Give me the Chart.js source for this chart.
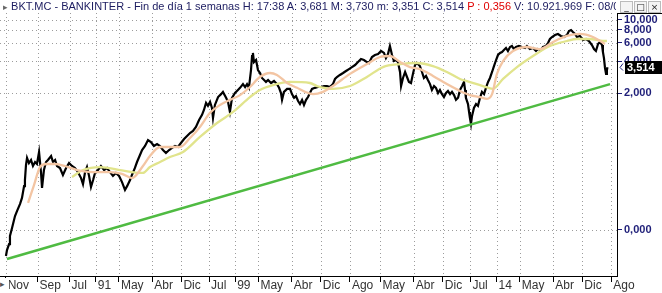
<!DOCTYPE html>
<html><head><meta charset="utf-8">
<script src="https://cdn.jsdelivr.net/npm/chart.js@4.4.1/dist/chart.umd.min.js"></script>
<style>
html,body{margin:0;padding:0;background:#fff;}
#wrap{position:relative;width:662px;height:293px;overflow:hidden;background:#fff;}
#c{position:absolute;left:0;top:0;}
#title{position:absolute;left:3px;top:0;width:613px;height:13px;overflow:hidden;white-space:nowrap;font:11px "Liberation Sans",Arial,sans-serif;color:#1c1c60;line-height:13px;}
#title .ic{color:#666;font-size:9px;}
#btns{position:absolute;left:620px;top:1px;height:11px;white-space:nowrap;font:9px "DejaVu Sans",sans-serif;color:#222;}
#btns span{display:inline-block;width:11px;height:10px;line-height:10px;text-align:center;border:1px solid #bbb;margin-right:1px;background:#f4f4f4;}
#mark{position:absolute;left:0;top:278px;width:9px;height:13px;background:#fff;color:#555;font:9px "DejaVu Sans",sans-serif;line-height:13px;}
</style></head>
<body>
<div id="wrap">
<canvas id="c" width="662" height="293"></canvas>
<div id="title"><span class="ic">&#9656;</span> BKT.MC - BANKINTER - Fin de día 1 semanas H: 17:38 A: 3,681 M: 3,730 m: 3,351 C: 3,514 <span style="color:#e00000">P : 0,356</span> V: 10.921.969 F: 08/05/2020</div>
<div id="btns"><span>_</span><span>&#9633;</span><span>&#215;</span></div>
<div id="mark">&#9656;</div>
</div>
<script>
// ---- data (dates as decimal years, prices in EUR) ----
const priceDates = [1985.85,1985.91,1986.03,1986.08,1986.20,1986.26,1986.37,1986.49,1986.66,1986.77,1986.89,1986.94,1987.00,1987.06,1987.17,1987.29,1987.40,1987.52,1987.63,1987.75,1987.86,1987.92,1988.03,1988.15,1988.26,1988.44,1988.55,1988.67,1988.78,1988.95,1989.12,1989.30,1989.47,1989.64,1989.81,1989.98,1990.16,1990.27,1990.39,1990.50,1990.62,1990.73,1990.85,1990.96,1991.13,1991.30,1991.48,1991.65,1991.82,1991.99,1992.16,1992.34,1992.51,1992.68,1992.80,1992.97,1993.08,1993.25,1993.37,1993.54,1993.66,1993.83,1994.00,1994.17,1994.34,1994.52,1994.69,1994.86,1995.03,1995.21,1995.38,1995.55,1995.72,1995.89,1996.07,1996.24,1996.41,1996.58,1996.75,1996.93,1997.10,1997.21,1997.33,1997.44,1997.56,1997.67,1997.73,1997.84,1998.02,1998.19,1998.30,1998.48,1998.59,1998.70,1998.82,1998.99,1999.16,1999.28,1999.45,1999.57,1999.68,1999.79,1999.91,1999.97,2000.02,2000.08,2000.20,2000.31,2000.43,2000.54,2000.66,2000.77,2000.89,2001.06,2001.23,2001.40,2001.52,2001.63,2001.69,2001.80,2001.98,2002.15,2002.26,2002.38,2002.49,2002.61,2002.72,2002.84,2002.95,2003.07,2003.18,2003.29,2003.41,2003.58,2003.75,2003.93,2004.10,2004.27,2004.44,2004.61,2004.73,2004.84,2005.01,2005.19,2005.36,2005.53,2005.70,2005.88,2006.05,2006.22,2006.39,2006.56,2006.68,2006.85,2007.02,2007.20,2007.37,2007.54,2007.65,2007.77,2007.88,2008.00,2008.11,2008.23,2008.34,2008.46,2008.52,2008.63,2008.75,2008.86,2008.97,2009.09,2009.20,2009.32,2009.43,2009.60,2009.72,2009.83,2009.95,2010.06,2010.18,2010.29,2010.41,2010.52,2010.64,2010.75,2010.87,2010.98,2011.10,2011.21,2011.33,2011.44,2011.56,2011.67,2011.79,2011.90,2012.02,2012.13,2012.19,2012.24,2012.36,2012.42,2012.47,2012.53,2012.59,2012.70,2012.82,2012.93,2013.05,2013.16,2013.28,2013.39,2013.51,2013.62,2013.74,2013.85,2013.97,2014.08,2014.20,2014.31,2014.42,2014.54,2014.65,2014.77,2014.88,2014.99,2015.11,2015.28,2015.46,2015.63,2015.74,2015.91,2016.09,2016.26,2016.37,2016.55,2016.66,2016.83,2016.95,2017.06,2017.18,2017.35,2017.52,2017.69,2017.87,2018.04,2018.15,2018.27,2018.38,2018.50,2018.61,2018.78,2018.96,2019.13,2019.30,2019.47,2019.59,2019.70,2019.82,2019.93,2020.05,2020.10,2020.16,2020.22,2020.28,2020.33,2020.36];
const priceValues = [0.0563,0.0641,0.0731,0.0872,0.104,0.114,0.135,0.151,0.176,0.201,0.260,0.297,0.413,0.482,0.431,0.461,0.404,0.441,0.422,0.549,0.354,0.250,0.370,0.441,0.461,0.503,0.441,0.461,0.404,0.387,0.332,0.387,0.431,0.404,0.387,0.354,0.310,0.272,0.354,0.395,0.325,0.255,0.297,0.347,0.370,0.404,0.370,0.387,0.354,0.325,0.347,0.325,0.284,0.239,0.260,0.297,0.332,0.387,0.441,0.514,0.574,0.626,0.714,0.683,0.626,0.654,0.626,0.574,0.537,0.574,0.600,0.626,0.613,0.669,0.730,0.780,0.833,0.870,0.950,1.107,1.24,1.38,1.61,1.51,1.65,1.44,1.157,1.54,1.83,1.95,2.05,1.80,1.65,1.32,1.80,2.00,2.14,2.24,2.43,2.28,2.43,2.24,3.31,4.50,4.81,3.94,4.12,3.31,3.10,2.78,2.66,2.55,2.66,2.49,2.60,2.43,2.24,2.00,1.72,2.05,2.19,2.19,1.95,1.80,1.87,1.68,1.57,1.72,1.54,1.72,1.83,2.00,2.19,2.24,2.28,2.28,2.33,2.33,2.28,2.43,2.72,2.84,2.97,3.10,3.24,3.38,3.53,3.69,3.94,4.21,4.12,3.94,3.86,4.40,4.60,4.70,5.02,4.81,4.30,4.70,5.60,4.60,4.03,4.12,3.94,3.17,2.33,2.78,3.17,2.84,2.55,2.49,3.04,3.69,3.86,3.61,3.17,2.78,2.91,2.66,2.43,2.14,2.33,2.24,2.00,2.14,1.95,1.83,2.00,2.09,1.95,2.05,1.91,1.72,1.80,2.14,2.33,2.55,2.14,1.80,1.57,1.32,1.157,1.014,1.21,1.44,1.57,1.51,1.80,2.05,1.95,2.24,2.55,2.78,3.17,3.61,4.12,4.60,4.81,4.91,5.13,5.36,5.02,5.48,5.60,5.24,5.48,5.60,5.48,5.36,5.60,5.24,5.36,5.02,5.24,5.13,5.48,5.60,5.98,6.53,6.82,7.13,7.29,6.98,6.82,7.13,7.78,7.95,7.61,7.29,6.82,6.98,6.39,6.53,6.25,5.72,5.24,5.02,5.85,6.12,5.72,4.91,4.30,3.46,3.04,3.31,3.514];

const maFastDates = [1987.12,1987.46,1987.80,1988.15,1988.67,1989.24,1989.93,1990.85,1991.82,1992.51,1993.08,1993.71,1994.11,1994.69,1995.26,1995.84,1996.41,1996.98,1997.56,1998.13,1998.70,1999.28,1999.85,2000.42,2001.00,2001.40,2001.98,2002.55,2003.01,2003.47,2004.04,2004.61,2005.59,2006.56,2007.31,2007.88,2008.46,2009.03,2009.60,2010.35,2011.15,2011.90,2012.47,2013.05,2013.45,2013.74,2014.02,2014.37,2014.94,2015.74,2016.49,2017.24,2018.04,2018.78,2019.53,2020.22];
const maFastValues = [0.180,0.266,0.395,0.422,0.422,0.404,0.370,0.354,0.354,0.340,0.310,0.404,0.503,0.613,0.613,0.613,0.746,0.950,1.295,1.54,1.72,1.91,2.28,2.84,3.10,2.97,2.49,2.24,2.05,1.95,2.05,2.33,3.04,3.77,4.40,4.50,3.94,3.53,3.38,2.91,2.43,2.09,1.91,1.83,1.76,1.95,3.04,4.03,5.02,5.48,5.24,6.12,6.98,7.29,6.82,5.85];

const maSlowDates = [1989.64,1990.27,1991.25,1992.39,1993.08,1993.71,1994.11,1994.69,1995.26,1996.01,1996.98,1997.96,1998.88,1999.85,2000.42,2001.17,2002.15,2003.29,2003.70,2004.61,2005.59,2006.56,2007.48,2008.46,2009.43,2010.35,2011.15,2011.90,2012.30,2013.22,2013.79,2014.37,2015.17,2016.09,2017.06,2018.04,2018.61,2019.36,2020.10,2020.33];
const maSlowValues = [0.318,0.370,0.395,0.370,0.354,0.347,0.395,0.441,0.492,0.549,0.763,1.036,1.32,1.83,2.14,2.38,2.55,2.49,2.33,2.19,2.33,2.84,3.53,3.77,3.86,3.61,3.17,2.72,2.60,2.33,2.19,2.72,3.53,4.50,5.60,6.25,6.53,6.53,6.25,6.25];

const trendDates = [1985.91, 2020.51];
const trendValues = [0.0526, 2.43];

const xTickDates = [1985.833,1987.667,1989.5,1991.0,1992.333,1994.25,1995.917,1997.5,1999.0,2000.333,2002.25,2003.917,2005.583,2007.333,2009.25,2010.917,2012.5,2014.0,2015.333,2017.25,2018.917,2020.583];
const xTickLabels = ['Nov','Sep','Jul','91','May','Abr','Dic','Jul','99','May','Abr','Dic','Ago','May','Abr','Dic','Jul','14','May','Abr','Dic','Ago'];
const yTickValues = [10, 8, 6, 4, 2, 0.1];
const yTickLabels = ['10,000','8,000','6,000','4,000','2,000','0,000'];

// ---- build ----
const pts = (xs, ys) => xs.map((x, i) => ({x: x, y: ys[i]}));
const lastValue = priceValues[priceValues.length - 1];

const overlay = {
  id: 'overlay',
  beforeDatasetsDraw(chart) {
    // dotted grid (drawn through the scales' own pixel mapping)
    const {ctx, chartArea, scales} = chart;
    ctx.save();
    ctx.strokeStyle = '#9c9c9c';
    ctx.lineWidth = 1;
    ctx.setLineDash([1, 3]);
    ctx.beginPath();
    xTickDates.forEach(v => {
      const px = Math.round(scales.x.getPixelForValue(v)) + 0.5;
      if (px > chartArea.left && px < chartArea.right) { ctx.moveTo(px, chartArea.top); ctx.lineTo(px, chartArea.bottom); }
    });
    yTickValues.forEach(v => {
      const py = Math.round(scales.y.getPixelForValue(v)) + 0.5;
      ctx.moveTo(chartArea.left, py); ctx.lineTo(chartArea.right, py);
    });
    ctx.stroke();
    ctx.restore();
  },
  afterDraw(chart) {
    const {ctx, chartArea, scales} = chart;
    ctx.save();
    ctx.strokeStyle = '#000';
    ctx.lineWidth = 1;
    ctx.beginPath();
    ctx.moveTo(chartArea.right, chartArea.top + 0.5);
    ctx.lineTo(662, chartArea.top + 0.5);
    ctx.stroke();
    const y = Math.round(scales.y.getPixelForValue(lastValue));
    const bx = chartArea.right + 8;
    ctx.fillStyle = '#000';
    ctx.fillRect(bx, y - 6, 662 - bx, 13);
    ctx.fillStyle = '#fff';
    ctx.font = 'bold 11px "Liberation Sans", Arial, sans-serif';
    ctx.textBaseline = 'middle';
    ctx.textAlign = 'left';
    ctx.fillText(lastValue.toFixed(3).replace('.', ','), bx + 2, y + 0.5);
    ctx.strokeStyle = '#1e1e78';
    ctx.beginPath();
    ctx.moveTo(bx - 2, y - 3.5); ctx.lineTo(bx - 5, y + 0.5); ctx.lineTo(bx - 2, y + 3.5);
    ctx.stroke();
    ctx.restore();
  }
};

new Chart(document.getElementById('c'), {
  type: 'line',
  data: {
    datasets: [
      {data: pts(trendDates, trendValues), borderColor: '#4fbb42', borderWidth: 2.5},
      {data: pts(maFastDates, maFastValues), borderColor: '#f3c5a3', borderWidth: 2.3, tension: 0.4, cubicInterpolationMode: 'monotone'},
      {data: pts(maSlowDates, maSlowValues), borderColor: '#e1e48c', borderWidth: 2.3, tension: 0.4, cubicInterpolationMode: 'monotone'},
      {data: pts(priceDates, priceValues), borderColor: '#000000', borderWidth: 2.2}
    ]
  },
  options: {
    responsive: false,
    animation: false,
    devicePixelRatio: 1,
    events: [],
    elements: {point: {radius: 0}, line: {fill: false}},
    layout: {padding: {top: 13, left: 0, right: 0, bottom: 0}},
    plugins: {legend: {display: false}, tooltip: {enabled: false}, title: {display: false}},
    scales: {
      x: {
        type: 'linear', position: 'bottom',
        min: 1985.509, max: 2020.908,
        afterFit(s) { s.height = 17; s.paddingLeft = 0; s.paddingRight = 0; },
        afterBuildTicks(s) { s.ticks = xTickDates.map(v => ({value: v})); },
        ticks: {
          autoSkip: false, maxRotation: 0, minRotation: 0, align: 'start', labelOffset: 2, padding: -4,
          color: '#333', font: {family: '"Liberation Sans", Arial, sans-serif', size: 12},
          callback: (v, i) => xTickLabels[i]
        },
        grid: {drawOnChartArea: false, drawTicks: true, tickLength: 6, tickColor: '#000', tickWidth: 1},
        border: {display: true, color: '#000', width: 1}
      },
      y: {
        type: 'logarithmic', position: 'right',
        min: 0.0363, max: 11.54,
        afterFit(s) { s.width = 45; s.paddingTop = 0; s.paddingBottom = 0; },
        afterBuildTicks(s) { s.ticks = yTickValues.map(v => ({value: v})); },
        ticks: {
          autoSkip: false, padding: 2,
          color: '#1e1e78', font: {family: '"Liberation Sans", Arial, sans-serif', size: 11, weight: 'bold'},
          callback: (v, i) => yTickLabels[i]
        },
        grid: {drawOnChartArea: false, drawTicks: true, tickLength: 5, tickColor: '#1e1e78', tickWidth: 1},
        border: {display: true, color: '#000', width: 1}
      }
    }
  },
  plugins: [overlay]
});
</script>
</body></html>
